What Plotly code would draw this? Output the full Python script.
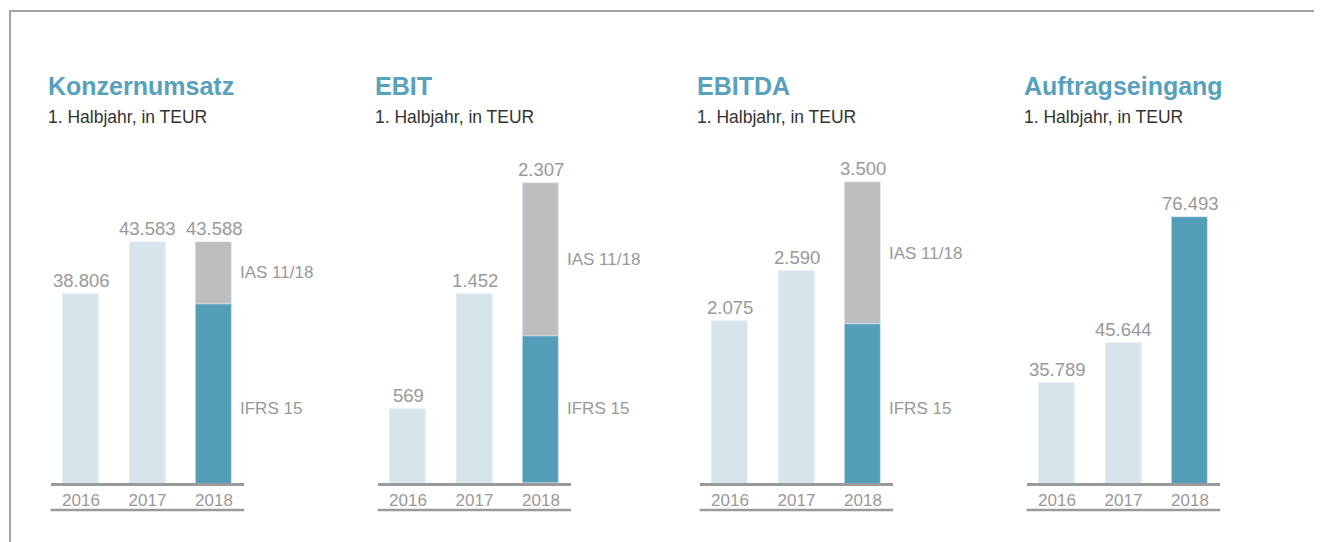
import plotly.graph_objects as go

# ---------------- data (TEUR, 1. Halbjahr) ----------------
titles = ["Konzernumsatz", "EBIT", "EBITDA", "Auftragseingang"]
subtitle = "1. Halbjahr, in TEUR"
years = ["2016", "2017", "2018"]
konzernumsatz = [38806, 43583, 43588]
ebit = [569, 1452, 2307]
ebitda = [2075, 2590, 3500]
auftragseingang = [35789, 45644, 76493]
# 2018 values under IFRS 15 (not labelled in the chart)
ifrs15_2018 = [37900, 1130, 2040, None]
stack_labels = ["IAS 11/18", "IFRS 15"]

series = [konzernumsatz, ebit, ebitda, auftragseingang]

# ---------------- styling ----------------
OFF = 8  # page body margin of the html page
W, H = 1322 - OFF, 542 - OFF
C_TITLE = "#58a1bd"
C_DARK = "#549db8"
C_LIGHT = "#d6e4ec"
C_GREY = "#bdbec0"
C_TEXT = "#999999"
C_SUB = "#333333"
C_LINE = "#9a9a9a"
FONT = "Liberation Sans, Arial, sans-serif"

# per-panel axis windows (styling: value axis starts above zero as in the original)
y_windows = [(21543, 51960), (0, 2562), (404, 3830), (11496, 92716)]
first_bar_px = [81, 408, 730, 1057]
PX_PER_CAT = 66.5
LEFT_PAD = 30.4
DOM_W = 193.5
BASE_PX, TOP_PX = 483, 150


def py(y):
    return 1 - (y - OFF) / H


def pxx(x):
    return (x - OFF) / W


def fmt(v):
    return f"{v:,}".replace(",", ".")


fig = go.Figure()
annotations = []
shapes = []
bw = 36 / PX_PER_CAT
idx = list(range(len(years)))

for i, vals in enumerate(series):
    n = i + 1
    xa = "x" if n == 1 else f"x{n}"
    ya = "y" if n == 1 else f"y{n}"
    xkey = "xaxis" if n == 1 else f"xaxis{n}"
    ykey = "yaxis" if n == 1 else f"yaxis{n}"

    # previous years
    fig.add_trace(go.Bar(x=years[:2], y=vals[:2], marker_color=C_LIGHT,
                         width=bw, xaxis=xa, yaxis=ya,
                         showlegend=False, hoverinfo="x+y"))
    if ifrs15_2018[i] is not None:
        fig.add_trace(go.Bar(x=[years[2]], y=[ifrs15_2018[i]], marker_color=C_DARK,
                             width=bw, xaxis=xa, yaxis=ya,
                             showlegend=False, name=stack_labels[1]))
        fig.add_trace(go.Bar(x=[years[2]], y=[vals[2] - ifrs15_2018[i]],
                             base=[ifrs15_2018[i]], marker_color=C_GREY,
                             width=bw, xaxis=xa, yaxis=ya,
                             showlegend=False, name=stack_labels[0]))
        # side labels
        annotations.append(dict(x=idx[2], y=(ifrs15_2018[i] + vals[2]) / 2,
                                xref=xa, yref=ya, text=stack_labels[0],
                                showarrow=False, xanchor="left", yanchor="middle",
                                xshift=24, font=dict(size=17, color=C_TEXT, family=FONT)))
        annotations.append(dict(x=idx[2], y=py(408), xref=xa, yref="paper",
                                text=stack_labels[1], showarrow=False,
                                xanchor="left", yanchor="middle", xshift=24,
                                font=dict(size=17, color=C_TEXT, family=FONT)))
    else:
        fig.add_trace(go.Bar(x=[years[2]], y=[vals[2]], marker_color=C_DARK,
                             width=bw, xaxis=xa, yaxis=ya,
                             showlegend=False))

    # value labels
    for j, v in zip(idx, vals):
        annotations.append(dict(x=j, y=v, xref=xa, yref=ya, text=fmt(v),
                                showarrow=False, yanchor="bottom", yshift=1,
                                font=dict(size=18.5, color=C_TEXT, family=FONT)))

    x0 = first_bar_px[i] - LEFT_PAD
    dom = [pxx(x0), pxx(x0 + DOM_W)]
    fig.update_layout(**{
        xkey: dict(domain=dom, anchor=ya, type="category",
                   range=[-LEFT_PAD / PX_PER_CAT, -LEFT_PAD / PX_PER_CAT + DOM_W / PX_PER_CAT],
                   showline=True, linecolor=C_LINE, linewidth=2.5,
                   showgrid=False, zeroline=False, ticks="",
                   tickfont=dict(size=17, color=C_TEXT, family=FONT),
                   fixedrange=True),
        ykey: dict(domain=[py(BASE_PX), py(TOP_PX)], anchor=xa,
                   range=list(y_windows[i]), visible=False, fixedrange=True),
    })

    # lower rule under year labels
    shapes.append(dict(type="line", xref=f"{xa} domain", yref="paper",
                       x0=0, x1=1, y0=py(510), y1=py(510),
                       line=dict(color=C_LINE, width=2.5)))

    # titles
    annotations.append(dict(x=pxx(x0 - 4.5), y=py(86.5), xref="paper", yref="paper",
                            text=f"<b>{titles[i]}</b>", showarrow=False,
                            xanchor="left", yanchor="middle",
                            font=dict(size=25, color=C_TITLE, family=FONT)))
    annotations.append(dict(x=pxx(x0 - 4.5), y=py(117), xref="paper", yref="paper",
                            text=subtitle, showarrow=False,
                            xanchor="left", yanchor="middle",
                            font=dict(size=17.5, color=C_SUB, family=FONT)))

# outer frame (top and left rule)
shapes.append(dict(type="line", xref="paper", yref="paper", x0=pxx(10), x1=1,
                   y0=py(11), y1=py(11), line=dict(color="#a3a3a3", width=2)))
shapes.append(dict(type="line", xref="paper", yref="paper", x0=pxx(10), x1=pxx(10),
                   y0=py(10), y1=0, line=dict(color="#a3a3a3", width=2)))

fig.update_layout(width=W, height=H, margin=dict(l=0, r=0, t=0, b=0),
                  paper_bgcolor="white", plot_bgcolor="white",
                  barmode="overlay", bargap=0,
                  annotations=annotations, shapes=shapes,
                  font=dict(family=FONT))

fig.write_html("out.html", config={"displayModeBar": False})
